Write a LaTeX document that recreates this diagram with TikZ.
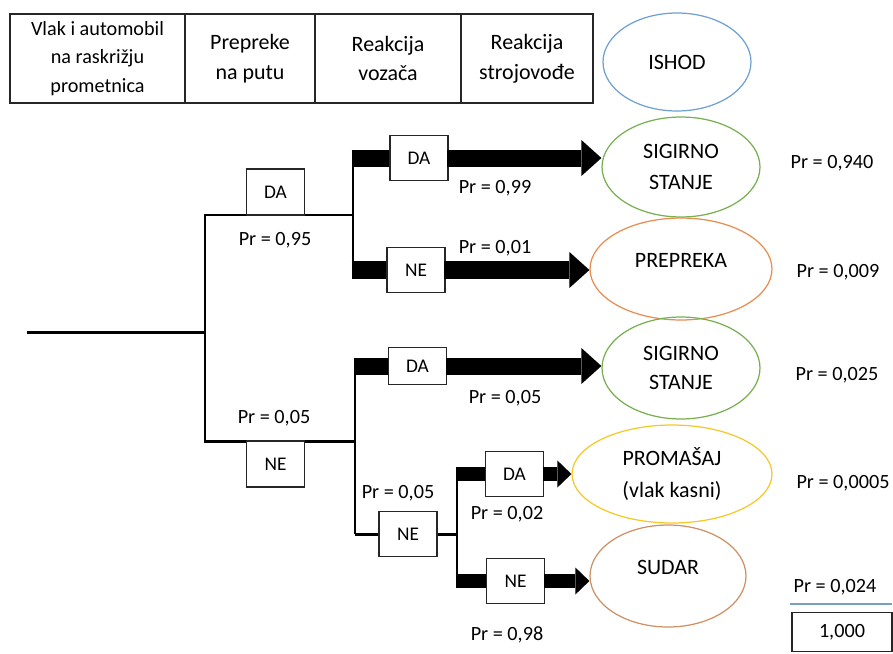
\documentclass[tikz,border=0pt]{standalone}
\usepackage{fontspec}
\setmainfont{Carlito}
\usetikzlibrary{arrows.meta,shapes.geometric}
\definecolor{ishodblue}{RGB}{110,160,210}
\definecolor{safegreen}{RGB}{120,175,80}
\definecolor{obstorange}{RGB}{232,140,80}
\definecolor{missyellow}{RGB}{245,200,40}
\definecolor{crashbrown}{RGB}{205,145,100}
\definecolor{sumrule}{RGB}{120,160,190}

\begin{document}
\begin{tikzpicture}[x=0.02cm, y=-0.02cm,
  hdr/.style={draw=black!85, line width=0.6pt, minimum width=#1, minimum height=1.78cm,
    inner sep=0pt, outer sep=0pt, align=center, font=\fontsize{12.5}{17}\selectfont},
  choice/.style={draw=black!85, line width=0.6pt, fill=white, minimum width=1.16cm,
    minimum height=0.9cm, inner sep=0pt, font=\fontsize{11}{13}\selectfont},
  outcome/.style={ellipse, draw=#1, line width=0.7pt, inner sep=0pt, align=center,
    font=\fontsize{12.5}{17}\selectfont},
  prob/.style={inner sep=0pt, font=\fontsize{11.5}{14}\selectfont},
  branch/.style={line width=1.7pt},
  flow/.style={line width=#1, shorten <=-0.03cm},
  bigtip/.style={-{Triangle[width=0.72cm,length=0.4cm,line width=0pt]}},
  smalltip/.style={-{Triangle[width=0.54cm,length=0.28cm,line width=0pt]}}]
  \useasboundingbox (0,0) rectangle (893,653);
  \node[hdr=3.5cm, font=\fontsize{11.5}{16}\selectfont] (h1) at (97.5,58.5) {Vlak i automobil\\na raskrižju\\prometnica};
  \node[hdr=2.6cm] (h2) at (250,58.5) {Prepreke\\na putu};
  \node[hdr=2.92cm] (h3) at (388,58.5) {Reakcija\\vozača};
  \node[hdr=2.64cm] (h4) at (527,58.5) {Reakcija\\strojovođe};
  \node[outcome=ishodblue, minimum width=2.96cm, minimum height=1.96cm] (ishod) at (677,62) {ISHOD};

  \node[outcome=safegreen, minimum width=3.16cm, minimum height=2.0cm] (sig1) at (681,167)
    {SIGIRNO\\[1pt]STANJE};
  \node[outcome=obstorange, minimum width=3.64cm, minimum height=2.04cm] (prep) at (681,269)
    {\raisebox{0.36cm}{PREPREKA}};
  \node[outcome=safegreen, minimum width=3.16cm, minimum height=2.04cm] (sig2) at (681,368)
    {\fontsize{12.5}{14}\selectfont SIGIRNO\\STANJE};
  \node[outcome=missyellow, minimum width=4.0cm, minimum height=1.96cm] (prom) at (672,474)
    {PROMAŠAJ\\[1pt](vlak kasni)};
  \node[outcome=crashbrown, minimum width=3.12cm, minimum height=2.04cm] (sud) at (668,576)
    {\raisebox{0.36cm}{SUDAR}};

  \coordinate (root) at (27,332);
  \coordinate (fork1) at (205,332);
  \coordinate (up1) at (205,215);
  \coordinate (dn1) at (205,441);
  \coordinate (up2) at (353,215);
  \coordinate (dn2) at (355,441);
  \coordinate (t2a) at (353,158);
  \coordinate (b2a) at (353,270);
  \coordinate (t2b) at (355,366);
  \coordinate (b2b) at (355,534);
  \coordinate (fork3) at (457,534);
  \coordinate (t3) at (457,474);
  \coordinate (b3) at (457,581);

  \draw[branch] (root) -- (fork1);
  \draw[branch] (up2) -- (up1) -- (dn1) -- (dn2);
  \draw[branch] (t2a) -- (b2a);
  \draw[branch] (t2b) -- (b2b);
  \draw[branch] (t3) -- (b3);

  \node[choice, minimum height=0.92cm] (da1) at (275.5,192) {DA};
  \node[choice, minimum height=0.92cm] (ne1) at (275.5,464) {NE};
  \node[choice] (da2) at (419,158) {DA};
  \node[choice] (ne2) at (416,270) {NE};
  \node[choice, minimum height=0.74cm] (da3) at (417.5,366) {DA};
  \node[choice] (ne3) at (408,534) {NE};
  \node[choice] (da4) at (514.5,474) {DA};
  \node[choice] (ne4) at (515.5,581) {NE};

  \draw[flow=0.34cm] (t2a) -- (da2.west);
  \draw[flow=0.34cm, bigtip] (da2.east) -- (da2.east -| sig1.west);
  \draw[flow=0.36cm] (b2a) -- (ne2.west);
  \draw[flow=0.36cm, bigtip] (ne2.east) -- (ne2.east -| prep.west);
  \draw[flow=0.34cm] (t2b) -- (da3.west);
  \draw[flow=0.34cm, bigtip] (da3.east) -- (da3.east -| sig2.west);
  \draw[branch] (b2b) -- (ne3.west);
  \draw[branch] (ne3.east) -- (fork3);
  \draw[flow=0.28cm] (t3) -- (da4.west);
  \draw[flow=0.28cm, smalltip] (da4.east) -- (da4.east -| prom.west);
  \draw[flow=0.28cm] (b3) -- (ne4.west);
  \draw[flow=0.28cm, smalltip] (ne4.east) -- (ne4.east -| sud.west);

  \node[prob] (p95) at (275,240) {Pr = 0,95};
  \node[prob] (p05a) at (274,418) {Pr = 0,05};
  \node[prob] (p99) at (495,188) {Pr = 0,99};
  \node[prob] (p01) at (495,248) {Pr = 0,01};
  \node[prob] (p05b) at (505,398) {Pr = 0,05};
  \node[prob] (p05c) at (398,493) {Pr = 0,05};
  \node[prob] (p02) at (507,514) {Pr = 0,02};
  \node[prob] (p98) at (507,635) {Pr = 0,98};

  \node[prob] (r940) at (832,163) {Pr = 0,940};
  \node[prob] (r009) at (838,272) {Pr = 0,009};
  \node[prob] (r025) at (837,375) {Pr = 0,025};
  \node[prob] (r0005) at (843,483) {Pr = 0,0005};
  \node[prob] (r024) at (835,587) {Pr = 0,024};
  \draw[sumrule, line width=0.8pt] (790,604) -- (892,604);
  \node[prob, draw=black!85, line width=0.6pt, minimum width=2cm, minimum height=0.78cm] (total) at (842,632) {1,000};
\end{tikzpicture}
\end{document}
